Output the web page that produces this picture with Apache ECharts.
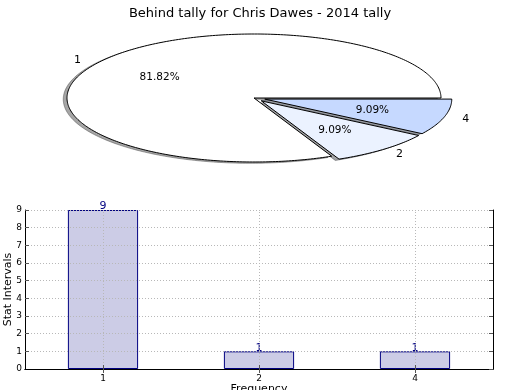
<!DOCTYPE html>
<html>
<head>
<meta charset="utf-8">
<script src="https://cdn.jsdelivr.net/npm/echarts@6/dist/echarts.min.js"></script>
<style>html,body{margin:0;padding:0;background:#fff}#c{width:520px;height:390px}</style>
</head>
<body>
<div id="c"></div>
<script>
const chartTitle = 'Behind tally for Chris Dawes - 2014 tally';
const pieLabels = ['1', '2', '4'];
const pieValues = [9, 1, 1];
const pieExplode = [0, 0.06, 0.06];
const pieColors = ['#ffffff', '#ebf2ff', '#c6d9ff'];
const barCategories = ['1', '2', '4'];
const barValues = [9, 1, 1];
const yAxisName = 'Stat Intervals';
const xAxisName = 'Frequency';

const FONT = 'DejaVu Sans';
const pieTotal = pieValues.reduce((a, b) => a + b, 0);
const pieStart = [];
(function () { let acc = 0; pieValues.forEach(v => { pieStart.push(acc); acc += v; }); })();

function wedgePoints(api, idx, ox, oy) {
  const a0 = pieStart[idx] / pieTotal * 2 * Math.PI;
  const a1 = (pieStart[idx] + pieValues[idx]) / pieTotal * 2 * Math.PI;
  const mid = (a0 + a1) / 2;
  const ex = pieExplode[idx];
  const cx = ex * Math.cos(mid) + ox, cy = ex * Math.sin(mid) + oy;
  const pts = [];
  const full = (a1 - a0) > 2 * Math.PI - 1e-6;
  if (!full) pts.push(api.coord([cx, cy]));
  const n = Math.max(8, Math.ceil((a1 - a0) / (2 * Math.PI) * 360));
  for (let k = 0; k <= n; k++) {
    const t = a0 + (a1 - a0) * k / n;
    pts.push(api.coord([cx + Math.cos(t), cy + Math.sin(t)]));
  }
  return { pts, mid, cx, cy };
}

function shadowColor(hex) {
  const r = parseInt(hex.slice(1, 3), 16), g = parseInt(hex.slice(3, 5), 16), b = parseInt(hex.slice(5, 7), 16);
  return 'rgba(' + Math.round(r * 0.3) + ',' + Math.round(g * 0.3) + ',' + Math.round(b * 0.3) + ',0.5)';
}

const chart = echarts.init(document.getElementById('c'), null, { renderer: 'canvas' });
const pieData = pieValues.map((v, i) => [i, v]);

const option = {
  backgroundColor: '#ffffff',
  animation: false,
  title: {
    text: chartTitle, left: 'center', top: 2,
    textStyle: { fontFamily: FONT, fontSize: 13, fontWeight: 'normal', color: '#000' }
  },
  grid: [
    { left: 25, right: 27, top: 210, height: 159, containLabel: false, outerBoundsMode: 'none' },
    { left: 254 - 1.35 * 187, width: 2.7 * 187, top: 98 - 1.5 * 64, height: 3 * 64, containLabel: false, outerBoundsMode: 'none' }
  ],
  xAxis: [
    {
      gridIndex: 0, type: 'category', data: barCategories, position: 'bottom', z: 8,
      axisLine: { lineStyle: { color: '#000', width: 1 } },
      axisTick: { show: true, inside: true, alignWithLabel: true, length: 4, lineStyle: { color: '#555' } },
      axisLabel: { fontFamily: FONT, fontSize: 9, color: '#000', margin: 5 },
      splitLine: { show: false },
      name: xAxisName, nameLocation: 'middle', nameGap: 15, nameMoveOverlap: false,
      nameTextStyle: { fontFamily: FONT, fontSize: 11, color: '#000', verticalAlign: 'top' }
    },
    {
      gridIndex: 0, type: 'category', data: barCategories, position: 'top', z: 8,
      axisLine: { lineStyle: { color: '#000', width: 1 } },
      axisTick: { show: true, inside: true, alignWithLabel: true, length: 4, lineStyle: { color: '#555' } },
      axisLabel: { show: false }, splitLine: { show: false }
    },
    { gridIndex: 1, type: 'value', min: -1.35, max: 1.35, show: false }
  ],
  yAxis: [
    {
      gridIndex: 0, type: 'value', min: 0, max: 9, interval: 1, position: 'left', z: 5,
      axisLine: { show: true, lineStyle: { color: '#000', width: 1 } },
      axisTick: { show: true, inside: true, length: 4, lineStyle: { color: '#555' } },
      axisLabel: { fontFamily: FONT, fontSize: 9, color: '#000', margin: 3 },
      splitLine: { show: true, lineStyle: { color: '#b8b8b8', type: [1, 2], width: 1 } },
      name: yAxisName, nameLocation: 'middle', nameGap: 11, nameRotate: 90, nameMoveOverlap: false,
      nameTextStyle: { fontFamily: FONT, fontSize: 11, color: '#000' }
    },
    {
      gridIndex: 0, type: 'value', min: 0, max: 9, interval: 1, position: 'right', z: 8,
      axisLine: { show: true, lineStyle: { color: '#000', width: 1 } },
      axisTick: { show: true, inside: true, length: 4, lineStyle: { color: '#555' } },
      axisLabel: { show: false }, splitLine: { show: false }
    },
    { gridIndex: 1, type: 'value', min: -1.5, max: 1.5, show: false }
  ],
  series: [
    {
      type: 'bar', xAxisIndex: 0, yAxisIndex: 0, data: barValues, barWidth: '45%',
      itemStyle: { color: '#ccccE6', borderColor: '#000080', borderWidth: 1 },
      label: { show: true, position: 'top', distance: -2, color: '#000080', fontFamily: FONT, fontSize: 11 },
      markLine: {
        silent: true, symbol: 'none', z: 6,
        label: { show: false },
        lineStyle: { color: '#b8b8b8', type: [1, 2], width: 1 },
        data: barCategories.map(c => ({ xAxis: c }))
      }
    },
    {
      type: 'custom', xAxisIndex: 2, yAxisIndex: 2, data: pieData, z: 1, clip: false,
      encode: { x: 0, y: 1 },
      renderItem: function (params, api) {
        const idx = api.value(0);
        const w = wedgePoints(api, idx, -0.02, -0.02);
        const c = shadowColor(pieColors[idx]);
        return { type: 'polygon', shape: { points: w.pts }, style: { fill: c, stroke: c, lineWidth: 1 } };
      }
    },
    {
      type: 'custom', xAxisIndex: 2, yAxisIndex: 2, data: pieData, z: 2, clip: false,
      encode: { x: 0, y: 1 },
      renderItem: function (params, api) {
        const idx = api.value(0);
        const w = wedgePoints(api, idx, 0, 0);
        const pct = (pieValues[idx] / pieTotal * 100).toFixed(2) + '%';
        const lp = api.coord([w.cx + 1.1 * Math.cos(w.mid), w.cy + 1.1 * Math.sin(w.mid)]);
        const pp = api.coord([w.cx + 0.6 * Math.cos(w.mid), w.cy + 0.6 * Math.sin(w.mid)]);
        return {
          type: 'group',
          children: [
            { type: 'polygon', shape: { points: w.pts }, style: { fill: pieColors[idx], stroke: '#000', lineWidth: 1 } },
            { type: 'text', x: lp[0], y: lp[1], z2: 10,
              style: { text: pieLabels[idx], fill: '#000', font: '11px "' + FONT + '"',
                align: Math.cos(w.mid) > 0 ? 'left' : 'right', verticalAlign: 'middle' } },
            { type: 'text', x: pp[0], y: pp[1], z2: 10,
              style: { text: pct, fill: '#000', font: '10.5px "' + FONT + '"', align: 'center', verticalAlign: 'middle' } }
          ]
        };
      }
    }
  ]
};
chart.setOption(option);
</script>
</body>
</html>
